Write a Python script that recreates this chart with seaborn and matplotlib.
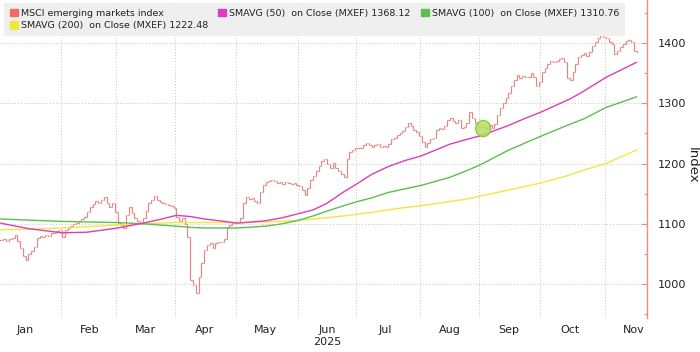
import numpy as np
import pandas as pd
import matplotlib
matplotlib.use("Agg")
import matplotlib.pyplot as plt
import seaborn as sns
from matplotlib.patches import Patch, Ellipse

# ---------------- data ----------------
start_date = "2025-01-02"
end_date = "2025-11-18"

close_jan = [1073, 1075, 1072, 1074, 1077, 1081, 1072, 1060, 1046, 1040, 1050,
             1055, 1062, 1076, 1080, 1078, 1082, 1080, 1085, 1084, 1088, 1090]
close_feb = [1078, 1090, 1093, 1097, 1099, 1102, 1105, 1108, 1112, 1120, 1128,
             1133, 1137, 1134, 1140, 1144, 1135, 1128, 1134, 1120]
close_mar = [1101, 1098, 1093, 1115, 1128, 1118, 1110, 1104, 1100, 1110, 1122,
             1134, 1140, 1146, 1139, 1136, 1134, 1132, 1131, 1129, 1126]
close_apr = [1112, 1104, 1110, 1100, 1078, 1006, 998, 985, 1012, 1035, 1056,
             1065, 1068, 1060, 1068, 1069, 1070, 1075, 1095, 1098, 1101, 1103]
close_may = [1103, 1110, 1134, 1144, 1141, 1143, 1138, 1134, 1152, 1164, 1169,
             1171, 1173, 1171, 1168, 1169, 1166, 1169, 1167, 1166, 1167, 1164]
close_jun = [1162, 1156, 1148, 1160, 1172, 1180, 1188, 1196, 1204, 1208, 1200,
             1192, 1201, 1193, 1188, 1182, 1178, 1208, 1219, 1222, 1226]
close_jul = [1226, 1225, 1230, 1234, 1231, 1228, 1230, 1232, 1228, 1229, 1227,
             1232, 1240, 1242, 1247, 1250, 1254, 1260, 1268, 1262, 1256, 1252, 1245]
close_aug = [1236, 1227, 1234, 1240, 1243, 1255, 1259, 1257, 1262, 1272, 1275,
             1270, 1268, 1272, 1259, 1261, 1268, 1285, 1276, 1267, 1260]
close_sep = [1260, 1261, 1258, 1264, 1259, 1266, 1280, 1292, 1300, 1308, 1317,
             1328, 1338, 1347, 1342, 1345, 1344, 1344, 1350, 1344, 1328, 1335]
close_oct = [1352, 1358, 1366, 1370, 1368, 1370, 1373, 1375, 1368, 1342, 1339,
             1352, 1365, 1377, 1380, 1383, 1378, 1385, 1395, 1402, 1408, 1417, 1410]
close_nov = [1408, 1402, 1398, 1382, 1386, 1393, 1399, 1404, 1405, 1401, 1386, 1385]

sma_dates = ["2025-01-02", "2025-01-16", "2025-02-03", "2025-02-14", "2025-03-03",
             "2025-03-14", "2025-03-24", "2025-04-01", "2025-04-08", "2025-04-15",
             "2025-04-24", "2025-05-01", "2025-05-15", "2025-05-23", "2025-06-02",
             "2025-06-09", "2025-06-16", "2025-06-24", "2025-07-01", "2025-07-08",
             "2025-07-16", "2025-07-24", "2025-08-01", "2025-08-15", "2025-08-25",
             "2025-09-01", "2025-09-15", "2025-09-22", "2025-10-01", "2025-10-15",
             "2025-10-22", "2025-11-03", "2025-11-18"]
sma50 = [1101, 1092, 1085, 1086, 1093, 1101, 1107, 1114, 1112, 1108, 1104, 1101,
         1105, 1110, 1117, 1123, 1134, 1153, 1167, 1182, 1195, 1205, 1213, 1232,
         1240, 1246, 1263, 1273, 1286, 1307, 1320, 1343, 1368.12]
sma100 = [1108, 1106, 1104, 1103, 1102, 1100, 1098, 1096, 1094, 1093, 1093, 1093,
          1096, 1100, 1106, 1113, 1121, 1130, 1137, 1143, 1152, 1158, 1164, 1177,
          1188, 1198, 1222, 1232, 1246, 1265, 1274, 1293, 1310.76]
sma200 = [1090, 1091, 1093, 1095, 1098, 1100, 1101, 1102, 1102, 1102, 1102, 1102,
          1103, 1104, 1106, 1108, 1110, 1113, 1116, 1119, 1123, 1127, 1130, 1137,
          1141, 1146, 1156, 1161, 1168, 1181, 1189, 1200, 1222.48]

legend_labels = ["MSCI emerging markets index",
                 "SMAVG (50)  on Close (MXEF) 1368.12",
                 "SMAVG (100)  on Close (MXEF) 1310.76",
                 "SMAVG (200)  on Close (MXEF) 1222.48"]
month_labels = ["Jan", "Feb", "Mar", "Apr", "May", "Jun", "Jul", "Aug", "Sep", "Oct", "Nov"]
year_label = "2025"
year_month = "Jun"
y_ticks = [1000, 1100, 1200, 1300, 1400]
y_minor = [950, 1050, 1150, 1250, 1350, 1450]
y_label = "Index"
highlight_date = "2025-09-02"
highlight_value = 1258

# ---------------- styles ----------------
price_color = "#e48784"
price_legend = "#f06a6a"
c50 = "#d83fb8"
c100 = "#5dbf4e"
c200 = "#f3e640"
spine_color = "#f28a8a"
grid_color = "#c4c4c4"

sns.set_theme(style="white")
plt.rcParams["font.family"] = ["DejaVu Sans"]

dates = pd.bdate_range(start_date, end_date)
close = np.array(close_jan + close_feb + close_mar + close_apr + close_may + close_jun
                 + close_jul + close_aug + close_sep + close_oct + close_nov, dtype=float)
assert len(close) == len(dates)
idx = np.arange(len(dates))
open_ = np.r_[close[0], close[:-1]]

sma_idx = dates.get_indexer(pd.to_datetime(sma_dates))
sma_df = pd.DataFrame({"i": np.tile(sma_idx, 3),
                       "v": sma50 + sma100 + sma200,
                       "s": ["50"] * len(sma50) + ["100"] * len(sma100) + ["200"] * len(sma200)})

fig = plt.figure(figsize=(7.0, 3.52), dpi=100)
ax = fig.add_axes([0.0, 34 / 352, 647 / 700, 318 / 352])

# price bars (OHLC-like)
ax.vlines(idx, np.minimum(open_, close), np.maximum(open_, close), color=price_color, lw=0.85, zorder=3)
ax.hlines(open_, idx - 0.45, idx, color=price_color, lw=0.85, zorder=3)
ax.hlines(close, idx, idx + 0.45, color=price_color, lw=0.85, zorder=3)

sns.lineplot(data=sma_df, x="i", y="v", hue="s", palette={"50": c50, "100": c100, "200": c200},
             hue_order=["200", "100", "50"], ax=ax, lw=1.0, legend=False, zorder=4)

hx = dates.get_indexer(pd.to_datetime([highlight_date]))[0]
ax.add_patch(Ellipse((hx, highlight_value), width=5.4, height=27, fc="#b4de62", ec="#86c43a",
                     alpha=0.85, lw=1.0, zorder=5))

# axes limits
ax.set_xlim(-0.2, 231.7)
ax.set_ylim(943.6, 1471.4)

# x ticks: month labels mid-month, gridlines at month boundaries
months = dates.month.values
month_starts = np.array([np.argmax(months == m) for m in range(1, 12)])
mid = []
for m in range(1, 12):
    d15 = pd.Timestamp(2025, m, 15)
    mid.append(int(np.searchsorted(dates.values, np.datetime64(d15))))
ax.set_xticks(mid)
ax.set_xticklabels([lab + ("\n" + year_label if lab == year_month else "") for lab in month_labels])
ax.set_xticks(month_starts[1:] - 0.5, minor=True)
ax.tick_params(axis="x", which="both", length=0, labelsize=8, labelcolor="#222222", pad=5)

# y axis on the right
ax.yaxis.tick_right()
ax.yaxis.set_label_position("right")
ax.set_yticks(y_ticks)
ax.set_yticks(y_minor, minor=True)
ax.tick_params(axis="y", which="major", direction="in", length=4, width=0.9, color=spine_color,
               labelsize=8.1, labelcolor="#222222", pad=8)
ax.tick_params(axis="y", which="minor", direction="in", length=2.5, width=0.9, color=spine_color)
ax.set_ylabel(y_label, rotation=270, fontsize=9.5, color="#222222", ha="center", va="center")
ax.yaxis.set_label_coords(692.5 / 647, 0.48)
ax.set_xlabel("")

for s in ["top", "left", "bottom"]:
    ax.spines[s].set_visible(False)
ax.spines["right"].set_color(spine_color)
ax.spines["right"].set_linewidth(1.0)

ax.grid(False)
ax.grid(axis="y", which="major", linestyle=(0, (1, 2)), color=grid_color, lw=0.7)
ax.grid(axis="x", which="minor", linestyle=(0, (1, 2)), color=grid_color, lw=0.7)

# legend
handles = [Patch(color=price_legend), Patch(color=c200), Patch(color=c50), Patch(color=c100)]
labels = [legend_labels[0], legend_labels[3], legend_labels[1], legend_labels[2]]
leg = ax.legend(handles, labels, ncol=3, loc="upper left", bbox_to_anchor=(4 / 647, 1 - 3 / 318),
                borderaxespad=0, fontsize=6.8, frameon=True, fancybox=False, framealpha=1,
                facecolor="#efefef", edgecolor="none", handlelength=0.85, handleheight=0.85,
                handletextpad=0.3, columnspacing=1.1, labelspacing=0.35, borderpad=0.6)
for t in leg.get_texts():
    t.set_color("#222222")
leg.set_zorder(10)

fig.savefig("out.png", dpi=100)
